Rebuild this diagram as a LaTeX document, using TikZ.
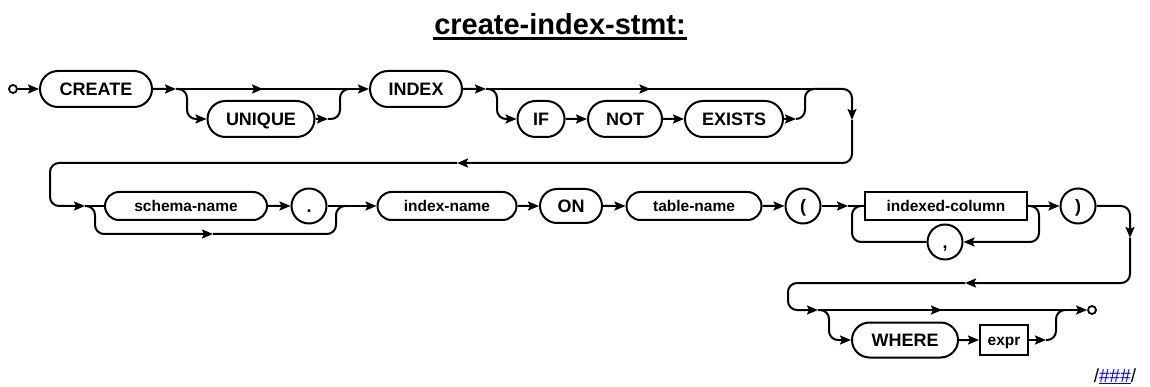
\documentclass[tikz,border=0pt]{standalone}
\usepackage{fontspec}
\setmainfont{Liberation Sans}
\usetikzlibrary{shapes.misc,arrows.meta,decorations.markings}
\definecolor{linkblue}{RGB}{0,0,238}

\begin{document}
\begin{tikzpicture}[x=1pt,y=-1pt, line width=2pt,
    >={Stealth[length=11pt,width=9pt,inset=2pt]},
    kw/.style={draw, rounded rectangle, minimum height=36pt, inner sep=0pt,
      text height=13pt, text depth=0pt, font=\fontsize{18}{20}\selectfont\bfseries},
    idf/.style={draw, rounded rectangle, minimum height=28pt, inner sep=0pt,
      text height=11pt, text depth=0pt, font=\fontsize{15.5}{18}\selectfont\bfseries},
    rbox/.style={draw, rectangle, minimum height=28pt, inner sep=0pt,
      text height=11pt, text depth=0pt, font=\fontsize{15.5}{18}\selectfont\bfseries},
    punct/.style={draw, circle, minimum size=35pt, inner sep=0pt,
      text height=13pt, text depth=0pt, font=\fontsize{18}{20}\selectfont\bfseries},
    endpt/.style={draw, circle, minimum size=8pt, inner sep=0pt, line width=1.8pt},
    rc/.style={rounded corners=9pt},
    mid/.style={postaction={decorate}, decoration={markings,
      mark=at position 0.5 with {\arrow{Stealth[length=11pt,width=9pt,inset=2pt]}}}}]
  \useasboundingbox (0,0) rectangle (1150,387);

  % title
  \node[anchor=base, inner sep=0pt, font=\fontsize{29}{32}\selectfont\bfseries] (title) at (560,35) {create-index-stmt:};
  \draw[line width=3pt] ([yshift=-4pt]title.base west) -- ([yshift=-4pt]title.base east);

  % row 1
  \node[endpt] (start) at (13,89) {};
  \node[kw, minimum width=112pt] (create) at (96,89) {CREATE};
  \node[kw, minimum width=107pt] (unique) at (261,119) {UNIQUE};
  \node[kw, minimum width=92pt] (index) at (416,89) {INDEX};
  \node[kw, minimum width=47pt] (if) at (541,119) {IF};
  \node[kw, minimum width=74pt] (not) at (625,119) {NOT};
  \node[kw, minimum width=98pt] (exists) at (734,119) {EXISTS};

  % row 2
  \node[idf, minimum width=162pt] (schema) at (186,206) {schema-name};
  \node[punct] (dot) at (309,206) {.};
  \node[idf, minimum width=139pt] (iname) at (447,206) {index-name};
  \node[kw, minimum width=62pt, minimum height=34pt] (on) at (571,206) {ON};
  \node[idf, minimum width=135pt] (tname) at (694,206) {table-name};
  \node[punct] (lparen) at (803,206) {(};
  \node[rbox, minimum width=162pt] (icol) at (946,206) {indexed-column};
  \node[punct] (comma) at (945,242) {,};
  \node[punct] (rparen) at (1078,206) {)};

  % row 3
  \node[kw, minimum width=106pt, minimum height=35pt] (where) at (905,340) {WHERE};
  \node[rbox, minimum width=48pt, minimum height=30pt] (expr) at (1004,340) {expr};
  \node[endpt] (stop) at (1092,310) {};

  % junctions
  \coordinate (j1) at (176,89);
  \coordinate (j2) at (350,89);
  \coordinate (u1) at (328,119);
  \coordinate (j3) at (486,89);
  \coordinate (j4) at (815,89);
  \coordinate (e1) at (796,119);
  \coordinate (c1) at (852,120);
  \coordinate (c2) at (457,163);
  \coordinate (j5) at (85,206);
  \coordinate (b1) at (213,234);
  \coordinate (j6) at (346,206);
  \coordinate (j7) at (848,206);
  \coordinate (d1) at (1130,238);
  \coordinate (d2) at (965,283);
  \coordinate (j9) at (818,310);
  \coordinate (j10) at (1066,310);
  \coordinate (x1) at (1046,340);

  % row 1 lines
  \draw[->] (start) -- (create);
  \draw[->] (create) -- (j1);
  \draw[mid] (j1) -- (j2);
  \draw[->] (j2) -- (index);
  \draw[->, rc] (j1) -| ++(11,30) -- (unique);
  \draw[->] (unique) -- (u1);
  \draw[rc] (u1) -| ([xshift=-10pt]j2) -- (j2);
  \draw[->] (index) -- (j3);
  \draw[mid] (j3) -- (j4);
  \draw[->, rc] (j3) -| ++(11,30) -- (if);
  \draw[->] (if) -- (not);
  \draw[->] (not) -- (exists);
  \draw[->] (exists) -- (e1);
  \draw[rc] (e1) -| ([xshift=-10pt]j4) -- (j4);

  % wrap to row 2
  \draw[->, rc] (j4) -| (c1);
  \draw[->, rc] (c1) |- (c2);
  \draw[->, rc] (c2) -| ([xshift=-35pt]j5) -- (j5);

  % row 2 lines
  \draw (j5) -- (schema);
  \draw[->] (schema) -- (dot);
  \draw (dot) -- (j6);
  \draw[->] (j6) -- (iname);
  \draw[->, rc] (j5) -| ++(10,28) -- (b1);
  \draw[rc] (b1) -| ([xshift=-10pt]j6) -- (j6);
  \draw[->] (iname) -- (on);
  \draw[->] (on) -- (tname);
  \draw[->] (tname) -- (lparen);
  \draw[->] (lparen) -- (j7);
  \draw (j7) -- (icol);
  \draw[->] (icol) -- (rparen);
  \draw[->, rc] (icol.east) -| ++(11,36) -- (comma);
  \draw[rc] (comma) -| ([xshift=-12pt]icol.west) -- (icol.west);

  % wrap to row 3
  \draw[->, rc] (rparen) -| (d1);
  \draw[->, rc] (d1) |- (d2);
  \draw[->, rc] (d2) -| ([xshift=-30pt]j9) -- (j9);

  % row 3 lines
  \draw[mid] (j9) -- (j10);
  \draw[->] (j10) -- (stop);
  \draw[->, rc] (j9) -| ++(11,30) -- (where);
  \draw[->] (where) -- (expr);
  \draw[->] (expr) -- (x1);
  \draw[rc] (x1) -| ([xshift=-10pt]j10) -- (j10);

  % footer
  \node[anchor=base, inner sep=0pt, font=\fontsize{19}{22}\selectfont] (foot) at (1115,382)
    {/\textcolor{linkblue}{\underline{\#\#\#}}/};
\end{tikzpicture}
\end{document}
